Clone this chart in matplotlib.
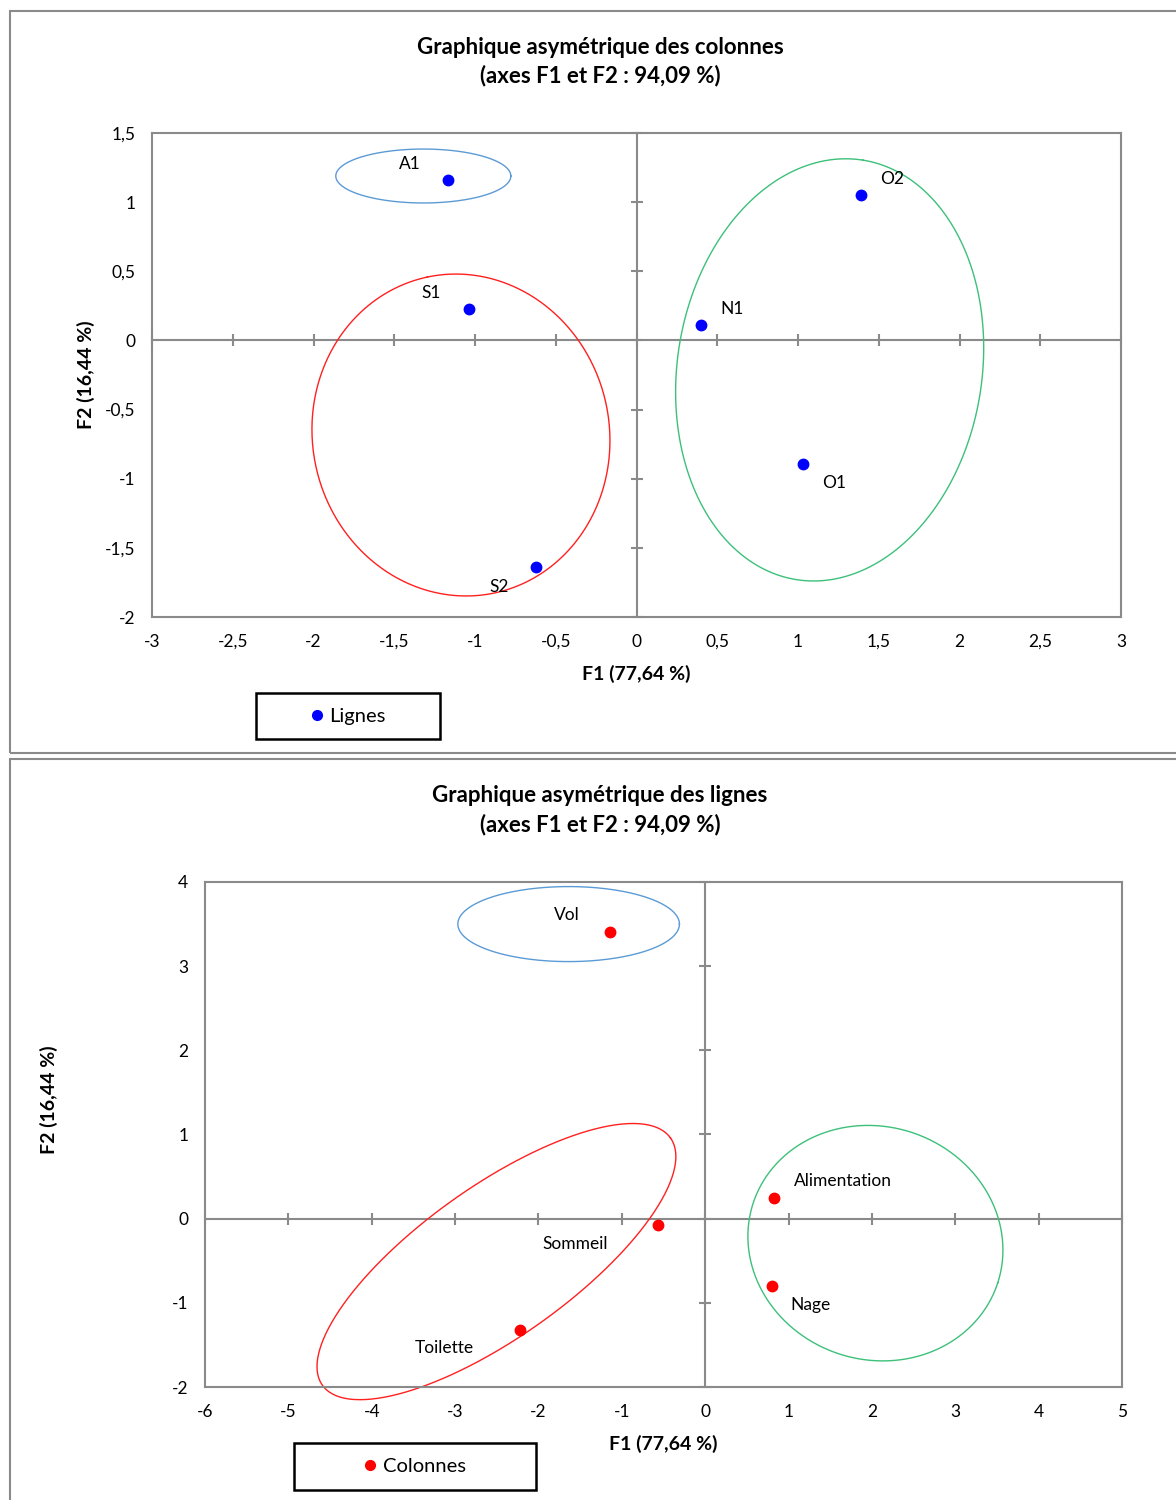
import numpy as np
import matplotlib
matplotlib.use('Agg')
import matplotlib.pyplot as plt
from matplotlib.patches import Rectangle
from matplotlib.lines import Line2D
from matplotlib.ticker import FuncFormatter

plt.rcParams['font.family'] = ['Lato', 'DejaVu Sans']

# --- data: graphique des colonnes (points "Lignes")
col_names = ['A1', 'S1', 'S2', 'N1', 'O2', 'O1']
col_f1 = [-1.17, -1.04, -0.62, 0.40, 1.39, 1.03]
col_f2 = [1.16, 0.23, -1.64, 0.11, 1.05, -0.89]
col_lab_dx = [-38, -37, -37, 31, 31, 31]   # label offsets, pixels
col_lab_dy = [16, 16, -20, 16, 16, -19]

# --- data: graphique des lignes (points "Colonnes")
lig_names = ['Vol', 'Sommeil', 'Toilette', 'Alimentation', 'Nage']
lig_f1 = [-1.14, -0.57, -2.22, 0.82, 0.80]
lig_f2 = [3.40, -0.07, -1.32, 0.25, -0.80]
lig_lab_dx = [-43, -83, -76, 69, 39]
lig_lab_dy = [17, -19, -18, 17, -19]

# ellipses: centre (data), semi-axes in x-units, angle of first axis (deg)
col_ell_cx = [-1.32, -1.087, 1.196]
col_ell_cy = [1.189, -0.684, -0.213]
col_ell_a = [0.542, 1.0, 1.315]
col_ell_b = [0.167, 0.919, 0.943]
col_ell_ang = [0, 102, 81]

lig_ell_cx = [-1.638, -2.504, 2.042]
lig_ell_cy = [3.5, -0.51, -0.291]
lig_ell_a = [1.329, 2.561, 1.543]
lig_ell_b = [0.45, 0.904, 1.398]
lig_ell_ang = [0, 35.4, -18]

ell_colors = ['#5b9bd5', '#ff2020', '#3cc07a']

GRAY = '#8a8a8a'
W, H = 1176, 1500

fig = plt.figure(figsize=(W / 100, H / 100), dpi=100)

# panel frames
fig.add_artist(Rectangle((10 / W, 1 - 753 / H), 1.2, 742 / H, transform=fig.transFigure,
                         fill=False, edgecolor=GRAY, lw=1.5))
fig.add_artist(Rectangle((10 / W, -0.1), 1.2, 0.1 + 1 - 759 / H, transform=fig.transFigure,
                         fill=False, edgecolor=GRAY, lw=1.5))


def fmt(v, pos):
    return ('%g' % v).replace('.', ',')


def draw_panel(rect, xlim, ylim, xticks, yticks, xs, ys, names, dx, dy, color,
               ecx, ecy, ea, eb, eang):
    ax = fig.add_axes(rect)
    ax.set_xlim(*xlim)
    ax.set_ylim(*ylim)
    ax.set_xticks(xticks)
    ax.set_yticks(yticks)
    ax.xaxis.set_major_formatter(FuncFormatter(fmt))
    ax.yaxis.set_major_formatter(FuncFormatter(fmt))
    ax.tick_params(length=0, labelsize=12.5, pad=12)
    for s in ax.spines.values():
        s.set_color(GRAY)
        s.set_linewidth(1.5)
    # central axes with crossing ticks
    ax.axhline(0, color=GRAY, lw=1.5, zorder=1)
    ax.axvline(0, color=GRAY, lw=1.5, zorder=1)
    ax.plot(xticks, np.zeros(len(xticks)), ls='none', marker='|', ms=9, mew=1.5,
            color=GRAY, clip_on=False, zorder=1)
    ax.plot(np.zeros(len(yticks)), yticks, ls='none', marker='_', ms=9, mew=1.5,
            color=GRAY, clip_on=False, zorder=1)
    # scale ratio px per x-unit / px per y-unit
    sx = rect[2] * W / (xlim[1] - xlim[0])
    sy = rect[3] * H / (ylim[1] - ylim[0])
    t = np.linspace(0, 2 * np.pi, 400)
    for i in range(len(ecx)):
        th = np.radians(eang[i])
        u = ea[i] * np.cos(t) * np.cos(th) - eb[i] * np.sin(t) * np.sin(th)
        v = ea[i] * np.cos(t) * np.sin(th) + eb[i] * np.sin(t) * np.cos(th)
        ax.plot(ecx[i] + u, ecy[i] + v * sx / sy, color=ell_colors[i], lw=1.0, zorder=2,
                clip_on=False)
    ax.plot(xs, ys, ls='none', marker='o', ms=7.5, color=color, zorder=3)
    for i in range(len(names)):
        ax.annotate(names[i], (xs[i], ys[i]), xytext=(dx[i], dy[i]),
                    textcoords='offset pixels', ha='center', va='center', fontsize=12.5)
    return ax


# --- top panel
ax1 = draw_panel([152 / W, 1 - 617 / H, 969 / W, 484 / H], (-3, 3), (-2, 1.5),
                 np.arange(-3, 3.01, 0.5), np.arange(-2, 1.51, 0.5),
                 col_f1, col_f2, col_names, col_lab_dx, col_lab_dy, '#0000ff',
                 col_ell_cx, col_ell_cy, col_ell_a, col_ell_b, col_ell_ang)
fig.text(600 / W, 1 - 47 / H, 'Graphique asymétrique des colonnes', ha='center', va='center',
         fontsize=16, fontweight='bold')
fig.text(600 / W, 1 - 76 / H, '(axes F1 et F2 : 94,09 %)', ha='center', va='center',
         fontsize=16, fontweight='bold')
fig.text(636 / W, 1 - 674 / H, 'F1 (77,64 %)', ha='center', va='center', fontsize=14,
         fontweight='bold')
fig.text(86 / W, 1 - 375 / H, 'F2 (16,44 %)', ha='center', va='center', fontsize=14,
         fontweight='bold', rotation=90)

# --- bottom panel
ax2 = draw_panel([205 / W, 1 - 1387 / H, 917 / W, 505 / H], (-6, 5), (-2, 4),
                 np.arange(-6, 5.01, 1), np.arange(-2, 4.01, 1),
                 lig_f1, lig_f2, lig_names, lig_lab_dx, lig_lab_dy, '#ff0000',
                 lig_ell_cx, lig_ell_cy, lig_ell_a, lig_ell_b, lig_ell_ang)
fig.text(600 / W, 1 - 796 / H, 'Graphique asymétrique des lignes', ha='center', va='center',
         fontsize=16, fontweight='bold')
fig.text(600 / W, 1 - 825 / H, '(axes F1 et F2 : 94,09 %)', ha='center', va='center',
         fontsize=16, fontweight='bold')
fig.text(663 / W, 1 - 1444 / H, 'F1 (77,64 %)', ha='center', va='center', fontsize=14,
         fontweight='bold')
fig.text(49 / W, 1 - 1100 / H, 'F2 (16,44 %)', ha='center', va='center', fontsize=14,
         fontweight='bold', rotation=90)

# --- legends (Excel-style boxes)
for (x0, y0, x1, y1), label, color in [((256, 693, 440, 739), 'Lignes', '#0000ff'),
                                        ((294, 1443, 536, 1490), 'Colonnes', '#ff0000')]:
    fig.add_artist(Rectangle((x0 / W, 1 - y1 / H), (x1 - x0) / W, (y1 - y0) / H,
                             transform=fig.transFigure, fill=False, edgecolor='black', lw=1.8))
    h = Line2D([], [], ls='none', marker='o', ms=7, color=color)
    fig.legend([h], [label], loc='center', frameon=False, fontsize=14.5,
               bbox_to_anchor=((x0 + x1) / 2 / W, 1 - (y0 + y1) / 2 / H),
               handlelength=0.6, handletextpad=0.3, borderpad=0)

fig.savefig('out.png', dpi=100)
